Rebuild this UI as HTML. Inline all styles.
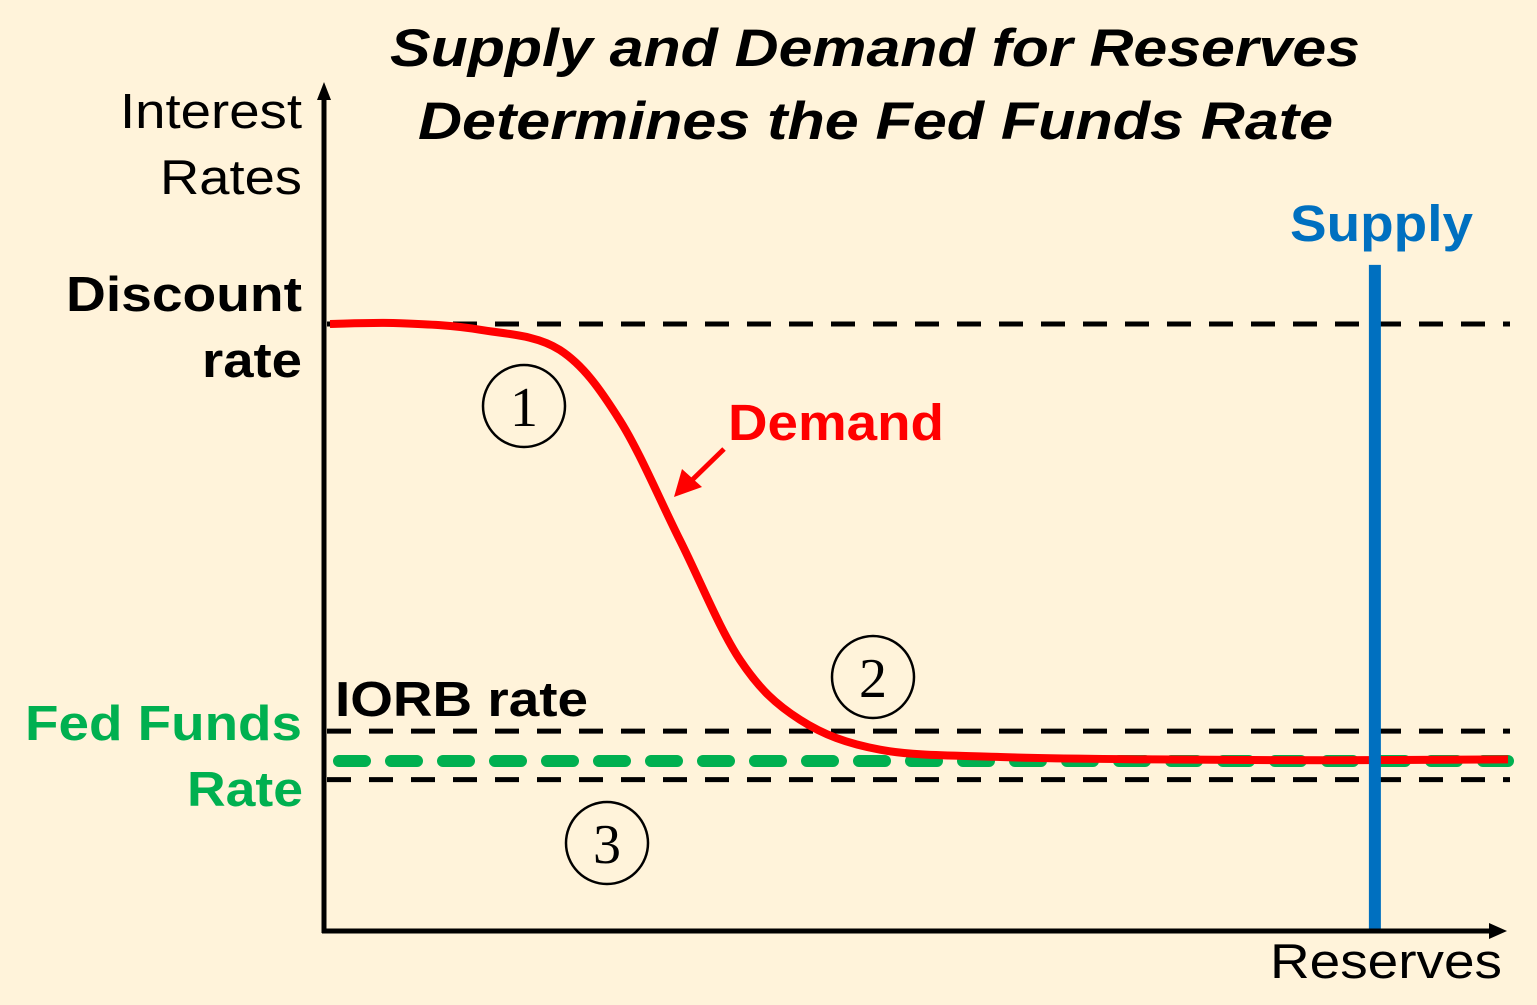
<!DOCTYPE html>
<html><head><meta charset="utf-8"><style>
html,body{margin:0;padding:0;background:#FFF3DA;}
svg{display:block;font-family:"Liberation Sans",sans-serif;}
</style></head><body>
<svg width="1537" height="1005" viewBox="0 0 1537 1005">
<rect width="1537" height="1005" fill="#FFF3DA"/>
<g font-weight="bold" font-style="italic" font-size="53" fill="#000" lengthAdjust="spacingAndGlyphs">
<text x="390" y="66" textLength="970" lengthAdjust="spacingAndGlyphs">Supply and Demand for Reserves</text>
<text x="418" y="139" textLength="915" lengthAdjust="spacingAndGlyphs">Determines the Fed Funds Rate</text>
</g>
<g font-size="49" fill="#000">
<text x="120" y="128" textLength="182" lengthAdjust="spacingAndGlyphs">Interest</text><text x="160" y="194" textLength="142" lengthAdjust="spacingAndGlyphs">Rates</text>
</g>
<g font-size="49" font-weight="bold" fill="#000">
<text x="66" y="311" textLength="236" lengthAdjust="spacingAndGlyphs">Discount</text><text x="202" y="377" textLength="100" lengthAdjust="spacingAndGlyphs">rate</text>
</g>
<g font-size="49" font-weight="bold" fill="#00B050">
<text x="25" y="740" textLength="277" lengthAdjust="spacingAndGlyphs">Fed Funds</text><text x="187" y="806" textLength="116" lengthAdjust="spacingAndGlyphs">Rate</text>
</g>
<text x="335" y="716" font-size="49" font-weight="bold" fill="#000" textLength="253" lengthAdjust="spacingAndGlyphs">IORB rate</text>
<text x="1290" y="241" font-size="51" font-weight="bold" fill="#0070C0" textLength="183" lengthAdjust="spacingAndGlyphs">Supply</text>
<text x="728" y="440" font-size="51" font-weight="bold" fill="#FF0000" textLength="216" lengthAdjust="spacingAndGlyphs">Demand</text>
<text x="1270" y="978" font-size="49" fill="#000" textLength="232" lengthAdjust="spacingAndGlyphs">Reserves</text>
<g id="marks"></g>
<g stroke="#000" stroke-width="5">
<line x1="324" y1="96" x2="324" y2="933"/>
<line x1="322" y1="931" x2="1492" y2="931"/>
</g>
<polygon points="324,82 317,100 331,100" fill="#000"/>
<polygon points="1507,931 1489,923 1489,939" fill="#000"/>
<line x1="724" y1="449" x2="688" y2="484" stroke="#FF0000" stroke-width="5"/>
<polygon points="674,497 682,469 702,487" fill="#FF0000"/>
<g font-family="'Liberation Serif',serif" font-size="56" text-anchor="middle">
<g><circle cx="524" cy="406" r="41" fill="none" stroke="#000" stroke-width="2.5"/><text x="524" y="426">1</text></g>
<g><circle cx="873" cy="677" r="41" fill="none" stroke="#000" stroke-width="2.5"/><text x="873" y="697">2</text></g>
<g><circle cx="607" cy="843" r="41" fill="none" stroke="#000" stroke-width="2.5"/><text x="607" y="863">3</text></g>
</g>
</svg>
<script>
// Data: reserves (x, 0-100) and interest rate (y, 0-100)
const rateLevels = [75, 24.7, 21.0, 18.7]; // discount, IORB, fed funds, lower bound
const rateNames = ['discount-rate-line','iorb-rate-line','fed-funds-rate-line','lower-rate-line'];
const demandX = [0, 6, 12.7, 19.5, 24.6, 29.7, 34.8, 39.9, 46.7, 56.9, 70, 85, 100];
const demandY = [75, 75.1, 74.3, 71.8, 63.1, 48.3, 33.5, 26.1, 22.4, 21.5, 21.2, 21.1, 21.2];
const supplyX = [88.7];
const supplyTop = [82.3];

const X0 = 330, X1 = 1508, Y0 = 931, Y1 = 324;
const xScale = v => X0 + (X1 - X0) * v / 100;
const yScale = v => Y0 - (Y0 - Y1) * v / 75;
const NS = 'http://www.w3.org/2000/svg';
const g = document.getElementById('marks');

rateLevels.forEach((r, i) => {
  const l = document.createElementNS(NS, 'line');
  
  
  const y = yScale(r);
  if (i === 2) {
    l.setAttribute('x1', xScale(0) + 9); l.setAttribute('x2', xScale(100));
    l.setAttribute('stroke', '#00B050'); l.setAttribute('stroke-width', '12');
    l.setAttribute('stroke-dasharray', '26 26'); l.setAttribute('stroke-linecap', 'round');
  } else {
    l.setAttribute('x1', xScale(0) - 3); l.setAttribute('x2', xScale(100) + 2);
    l.setAttribute('stroke', '#000'); l.setAttribute('stroke-width', '5');
    l.setAttribute('stroke-dasharray', '24 18');
  }
  l.setAttribute('y1', y); l.setAttribute('y2', y);
  g.appendChild(l);
});

const pts = demandX.map((x, i) => [xScale(x), yScale(demandY[i])]);
let d = 'M' + pts[0][0] + ',' + pts[0][1];
for (let i = 0; i < pts.length - 1; i++) {
  const p0 = pts[i - 1] || pts[i], p1 = pts[i], p2 = pts[i + 1], p3 = pts[i + 2] || p2;
  const c1 = [p1[0] + (p2[0] - p0[0]) / 6, p1[1] + (p2[1] - p0[1]) / 6];
  const c2 = [p2[0] - (p3[0] - p1[0]) / 6, p2[1] - (p3[1] - p1[1]) / 6];
  d += ' C' + c1 + ' ' + c2 + ' ' + p2;
}
const dem = document.createElementNS(NS, 'path');


dem.setAttribute('d', d);
dem.setAttribute('fill', 'none'); dem.setAttribute('stroke', '#FF0000'); dem.setAttribute('stroke-width', '8');
g.appendChild(dem);

supplyX.forEach((s, i) => {
  const l = document.createElementNS(NS, 'line');
  
  
  l.setAttribute('x1', xScale(s)); l.setAttribute('x2', xScale(s));
  l.setAttribute('y1', yScale(supplyTop[i])); l.setAttribute('y2', Y0);
  l.setAttribute('stroke', '#0070C0'); l.setAttribute('stroke-width', '12');
  g.appendChild(l);
});
</script>
</body></html>
